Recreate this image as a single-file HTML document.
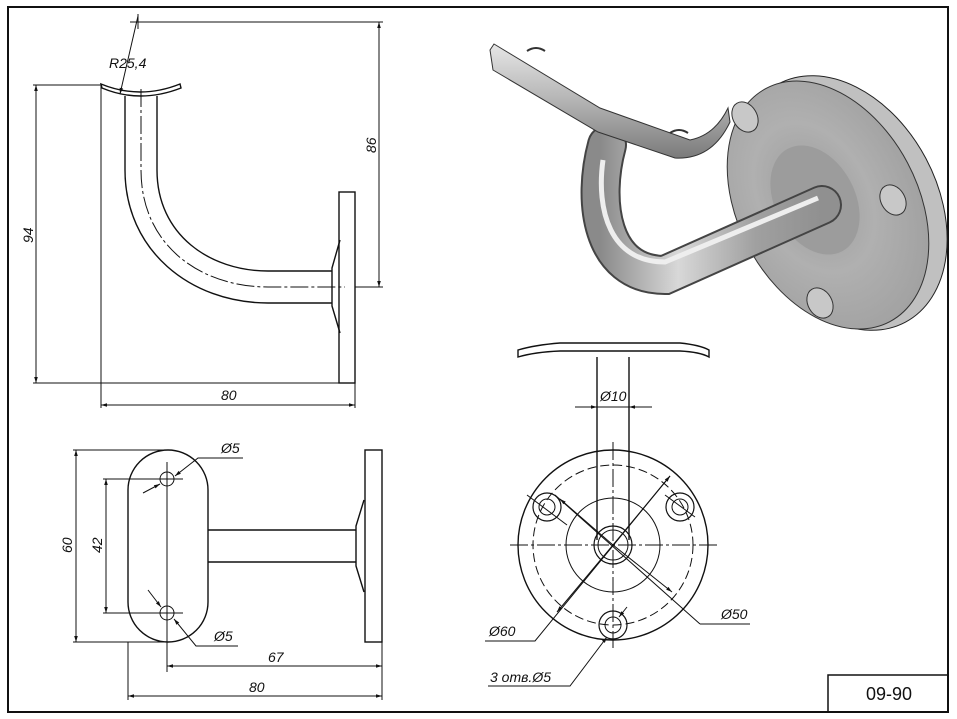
<!DOCTYPE html>
<html><head><meta charset="utf-8"><style>
html,body{margin:0;padding:0;background:#fff;}
svg{display:block;}
text{font-family:"Liberation Sans",sans-serif;font-style:italic;font-size:14px;fill:#111;}
</style></head><body>
<svg width="957" height="719" viewBox="0 0 957 719" xmlns="http://www.w3.org/2000/svg">
<defs>
<marker id="a" viewBox="0 0 10 10" refX="10" refY="5" markerWidth="8" markerHeight="6" orient="auto-start-reverse"><path d="M0,2 L10,5 L0,8 Z" fill="#111"/></marker>
<linearGradient id="g1" x1="0" y1="0" x2="0" y2="1"><stop offset="0" stop-color="#e6e6e6"/><stop offset="0.5" stop-color="#b4b4b4"/><stop offset="1" stop-color="#7a7a7a"/></linearGradient>
<linearGradient id="g2" x1="0" y1="0" x2="1" y2="0"><stop offset="0" stop-color="#8a8a8a"/><stop offset="0.35" stop-color="#d8d8d8"/><stop offset="0.7" stop-color="#a0a0a0"/><stop offset="1" stop-color="#909090"/></linearGradient>
<radialGradient id="g3" cx="0.45" cy="0.45" r="0.6"><stop offset="0" stop-color="#9a9a9a"/><stop offset="0.5" stop-color="#b0b0b0"/><stop offset="1" stop-color="#a0a0a0"/></radialGradient>
</defs>
<rect x="8" y="7" width="940" height="705" fill="none" stroke="#111" stroke-width="2"/>
<rect x="828" y="675" width="120" height="37" fill="none" stroke="#111" stroke-width="1.5"/>
<text x="866" y="700" style="font-style:normal;font-size:18px">09-90</text>

<g stroke="#111" fill="none" stroke-width="1">
<line x1="130" y1="22" x2="383" y2="22"/>
<line x1="138" y1="14" x2="138" y2="29"/>
<line x1="379" y1="22" x2="379" y2="287" marker-start="url(#a)" marker-end="url(#a)"/>
<line x1="355" y1="287" x2="383" y2="287"/>
<line x1="33" y1="85" x2="101" y2="85"/>
<line x1="33" y1="383" x2="355" y2="383"/>
<line x1="36" y1="85" x2="36" y2="383" marker-start="url(#a)" marker-end="url(#a)"/>
<line x1="101" y1="85" x2="101" y2="408"/>
<line x1="355" y1="383" x2="355" y2="408"/>
<line x1="101" y1="405" x2="355" y2="405" marker-start="url(#a)" marker-end="url(#a)"/>
<line x1="138" y1="16" x2="120" y2="94" marker-end="url(#a)"/>
<path d="M101,84 Q140,100 180,84 L181,88 Q140,104 102,88 Z" stroke-width="1.4"/>
<path d="M125,96 L125,170 C125,250 190,303 268,303 L332,303" stroke-width="1.4"/>
<path d="M157,96 L157,170 C157,235 210,271 268,271 L332,271" stroke-width="1.4"/>
<path d="M141,89 L141,170 C141,245 200,287 268,287 L345,287" stroke-dasharray="18,3,3,3"/>
<path d="M340,240 L332,268 L332,306 L340,333" stroke-width="1.4"/>
<rect x="339" y="192" width="16" height="191" stroke-width="1.4"/>

<rect x="128" y="450" width="80" height="192" rx="40" ry="40" stroke-width="1.4"/>
<circle cx="167" cy="479" r="7"/>
<circle cx="167" cy="613" r="7"/>
<line x1="167" y1="462" x2="167" y2="672"/>
<line x1="103" y1="479" x2="183" y2="479"/>
<line x1="103" y1="613" x2="183" y2="613"/>
<line x1="73" y1="450" x2="165" y2="450"/>
<line x1="73" y1="642" x2="167" y2="642"/>
<line x1="76" y1="450" x2="76" y2="642" marker-start="url(#a)" marker-end="url(#a)"/>
<line x1="106" y1="479" x2="106" y2="613" marker-start="url(#a)" marker-end="url(#a)"/>
<line x1="208" y1="530" x2="356" y2="530" stroke-width="1.4"/>
<line x1="208" y1="562" x2="356" y2="562" stroke-width="1.4"/>
<path d="M364,500 L356,526 L356,566 L364,592" stroke-width="1.4"/>
<rect x="365" y="450" width="17" height="192" stroke-width="1.4"/>
<line x1="128" y1="642" x2="128" y2="700"/>
<line x1="382" y1="642" x2="382" y2="700"/>
<line x1="167" y1="666" x2="382" y2="666" marker-start="url(#a)" marker-end="url(#a)"/>
<line x1="128" y1="696" x2="382" y2="696" marker-start="url(#a)" marker-end="url(#a)"/>
<line x1="143" y1="493" x2="160" y2="484" marker-end="url(#a)"/>
<path d="M243,458 L198,458 L175,476" marker-end="url(#a)"/>
<line x1="148" y1="590" x2="161" y2="607" marker-end="url(#a)"/>
<path d="M238,646 L196,646 L174,619" marker-end="url(#a)"/>

<path d="M518,357 L518,350 Q535,345 560,343 L680,343 Q700,345 709,350 L709,357 Q700,352 680,351 L560,351 Q535,352 518,357 Z" stroke-width="1.4"/>
<line x1="597" y1="357" x2="597" y2="540" stroke-width="1.4"/>
<line x1="629" y1="357" x2="629" y2="540" stroke-width="1.4"/>
<circle cx="613" cy="545" r="95" stroke-width="1.4"/>
<circle cx="613" cy="545" r="80" stroke-dasharray="9,4"/>
<circle cx="613" cy="545" r="47"/>
<circle cx="613" cy="545" r="19" stroke-width="1.2"/>
<circle cx="613" cy="545" r="15"/>
<circle cx="547" cy="507" r="14" stroke-width="1.2"/><circle cx="547" cy="507" r="8"/>
<circle cx="680" cy="507" r="14" stroke-width="1.2"/><circle cx="680" cy="507" r="8"/>
<circle cx="613" cy="625" r="14" stroke-width="1.2"/><circle cx="613" cy="625" r="8"/>
<line x1="510" y1="545" x2="718" y2="545" stroke-dasharray="18,3,3,3"/>
<line x1="613" y1="442" x2="613" y2="648" stroke-dasharray="18,3,3,3"/>
<line x1="527" y1="495" x2="567" y2="525"/>
<line x1="665" y1="495" x2="695" y2="517"/>
<line x1="555" y1="495" x2="700" y2="624"/>
<path d="M750,624 L700,624"/>
<line x1="613" y1="545" x2="672" y2="592" marker-end="url(#a)"/>
<line x1="613" y1="545" x2="560" y2="499" marker-end="url(#a)"/>
<path d="M485,641 L535,641 L670,476"/>
<line x1="613" y1="545" x2="670" y2="476" marker-end="url(#a)"/>
<line x1="613" y1="545" x2="557" y2="612" marker-end="url(#a)"/>
<path d="M488,686 L570,686 L607,637" marker-end="url(#a)"/>
<line x1="627" y1="607" x2="619" y2="617" marker-end="url(#a)"/>
<line x1="575" y1="407" x2="597" y2="407" marker-end="url(#a)"/>
<line x1="652" y1="407" x2="629" y2="407" marker-end="url(#a)"/>
<line x1="597" y1="407" x2="629" y2="407"/>
</g>

<text x="109" y="68">R25,4</text>
<text transform="translate(376,153) rotate(-90)">86</text>
<text transform="translate(33,243) rotate(-90)">94</text>
<text x="221" y="400">80</text>
<text x="221" y="453">Ø5</text>
<text x="214" y="641">Ø5</text>
<text transform="translate(72,553) rotate(-90)">60</text>
<text transform="translate(102,553) rotate(-90)">42</text>
<text x="268" y="662">67</text>
<text x="249" y="692">80</text>
<text x="600" y="401">Ø10</text>
<text x="489" y="636">Ø60</text>
<text x="721" y="619">Ø50</text>
<text x="490" y="682">3 отв.Ø5</text>

<g>
<ellipse cx="842" cy="203" rx="95" ry="135" transform="rotate(-28 842 203)" fill="#c0c0c0" stroke="#222" stroke-width="1"/>
<ellipse cx="828" cy="205" rx="90" ry="132" transform="rotate(-28 828 205)" fill="url(#g3)" stroke="#333" stroke-width="1"/>
<ellipse cx="815" cy="200" rx="40" ry="58" transform="rotate(-28 815 200)" fill="#9c9c9c"/>
<path d="M607,145 C592,200 600,275 665,275 L822,205" fill="none" stroke="#444" stroke-width="40" stroke-linecap="round"/>
<path d="M607,145 C592,200 600,275 665,275 L822,205" fill="none" stroke="url(#g2)" stroke-width="36" stroke-linecap="round"/>
<path d="M603,160 C596,210 610,262 665,262 L818,198" fill="none" stroke="#eee" stroke-width="5"/>
<path d="M490,50 L494,44 L600,108 L690,140 Q715,135 728,108 L730,122 Q712,160 675,158 L598,132 L493,70 Z" fill="url(#g1)" stroke="#333" stroke-width="1"/>
<path d="M527,51 q9,-6 18,0" fill="none" stroke="#333" stroke-width="2"/>
<path d="M670,133 q9,-6 18,0" fill="none" stroke="#333" stroke-width="2"/>
<ellipse cx="745" cy="117" rx="12" ry="16" transform="rotate(-30 745 117)" fill="#c8c8c8" stroke="#333"/>
<ellipse cx="893" cy="200" rx="12" ry="16" transform="rotate(-30 893 200)" fill="#c8c8c8" stroke="#333"/>
<ellipse cx="820" cy="303" rx="12" ry="16" transform="rotate(-30 820 303)" fill="#c8c8c8" stroke="#333"/>
</g>
</svg>
</body></html>
